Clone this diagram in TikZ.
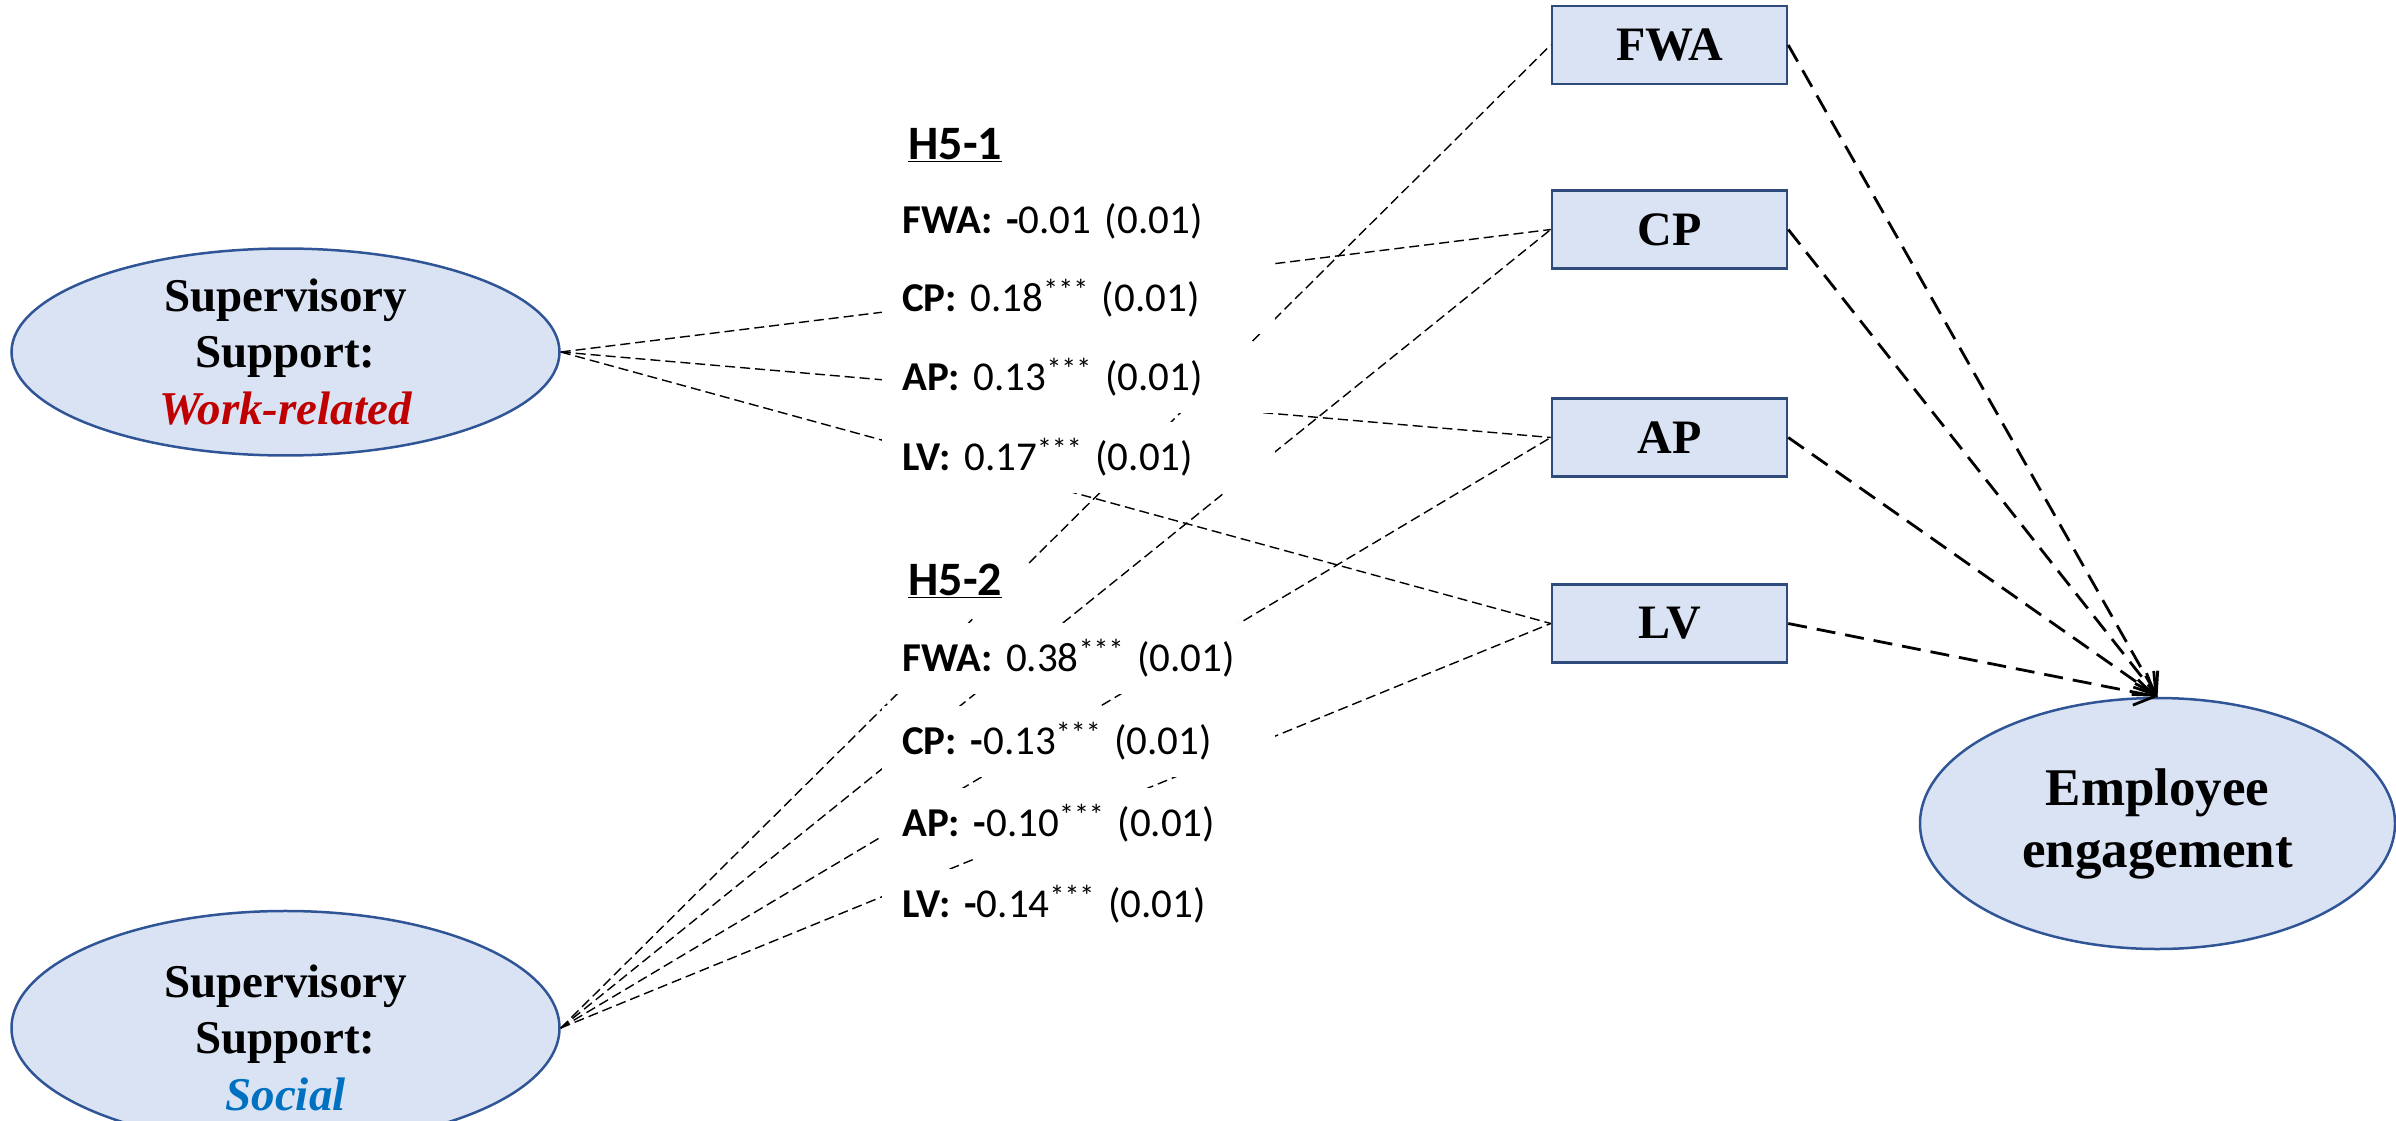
\documentclass[tikz,border=0pt]{standalone}
\usepackage{fontspec}
\setmainfont{Liberation Serif}
\newfontfamily\calfont{Carlito}
\usetikzlibrary{shapes.geometric,arrows.meta}
\definecolor{nodefill}{HTML}{DAE3F3}
\definecolor{ellborder}{HTML}{2F5597}
\definecolor{boxborder}{HTML}{2F4B7C}
\definecolor{wrred}{HTML}{C00000}
\definecolor{socblue}{HTML}{0070C0}
\newcommand{\sigstars}{\raisebox{11pt}{\fontsize{30}{30}\selectfont ***}}
\begin{document}
\begin{tikzpicture}[x=1pt,y=-1pt,
 latent/.style={ellipse, draw=ellborder, fill=nodefill, line width=2.5pt, inner sep=0pt, align=center, font=\fontsize{47}{56.5}\selectfont\bfseries},
 obs/.style={rectangle, draw=boxborder, fill=nodefill, line width=2.5pt, minimum width=235pt, minimum height=78pt, inner sep=0pt, font=\fontsize{48}{56}\selectfont\bfseries},
 lbl/.style={anchor=west, fill=white, inner ysep=0pt, inner xsep=20pt, text width=353pt, minimum height=71pt, align=left, font=\fontsize{41}{49}\selectfont\calfont},
 hlbl/.style={anchor=west, fill=white, inner ysep=0pt, inner xsep=12pt, minimum width=146pt, minimum height=71pt, align=left, font=\fontsize{48}{56}\selectfont\calfont\bfseries},
 pathline/.style={line width=1.4pt, dash pattern=on 10pt off 5pt},
 effectline/.style={line width=2.8pt, dash pattern=on 19pt off 10pt, -{Straight Barb[length=20pt,width=26pt,line width=2.8pt]}}
]
\useasboundingbox (0,0) rectangle (2396,1121);

% latent variables
\node[latent, minimum width=548pt, minimum height=194pt] (wr) at (285.5,352) {Supervisory\\Support:\\\textcolor{wrred}{\itshape Work-related}};
\node[latent, minimum width=548pt, minimum height=194pt] (so) at (285.5,1028) {\rule{0pt}{52pt}Supervisory\\Support:\\\textcolor{socblue}{\itshape Social}};
\node[latent, minimum width=475pt, minimum height=251pt, font=\fontsize{53}{62}\selectfont\bfseries] (ee) at (2157.5,823.5) {Employee\\engagement};

% mediators
\node[obs] (fwa) at (1669.5,45) {FWA};
\node[obs] (cp) at (1669.5,229.5) {CP};
\node[obs] (ap) at (1669.5,437.5) {AP};
\node[obs] (lv) at (1669.5,623.5) {LV};

% paths from supervisory support
\draw[pathline] (wr.east) -- (cp.west);
\draw[pathline] (wr.east) -- (ap.west);
\draw[pathline] (wr.east) -- (lv.west);
\draw[pathline] (so.east) -- (fwa.west);
\draw[pathline] (so.east) -- (cp.west);
\draw[pathline] (so.east) -- (ap.west);
\draw[pathline] (so.east) -- (lv.west);

% paths to engagement
\draw[effectline] (fwa.east) -- (ee.north);
\draw[effectline] (cp.east) -- (ee.north);
\draw[effectline] (ap.east) -- (ee.north);
\draw[effectline] (lv.east) -- (ee.north);

% coefficient labels
\node[hlbl] (h1) at (882,145) {\underline{H5-1}};
\node[lbl] (a1) at (882,221) {\textbf{FWA: -}0.01 (0.01)};
\node[lbl] (b1) at (882,298) {\textbf{CP:} 0.18\sigstars{} (0.01)};
\node[lbl] (c1) at (882,377) {\textbf{AP:} 0.13\sigstars{} (0.01)};
\node[lbl] (d1) at (882,457) {\textbf{LV:} 0.17\sigstars{} (0.01)};
\node[hlbl] (h2) at (882,581) {\underline{H5-2}};
\node[lbl] (a2) at (882,658) {\textbf{FWA:} 0.38\sigstars{} (0.01)};
\node[lbl] (b2) at (882,741) {\textbf{CP: -}0.13\sigstars{} (0.01)};
\node[lbl] (c2) at (882,823) {\textbf{AP: -}0.10\sigstars{} (0.01)};
\node[lbl] (d2) at (882,904) {\textbf{LV: -}0.14\sigstars{} (0.01)};
\end{tikzpicture}
\end{document}
